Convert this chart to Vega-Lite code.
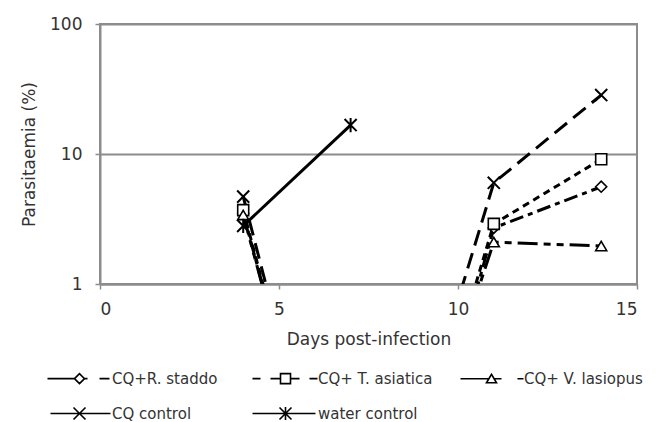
{
  "$schema": "https://vega.github.io/schema/vega-lite/v6.json",
  "autosize": {"type": "none"},
  "padding": {"left": 100, "top": 24, "right": 19, "bottom": 138},
  "width": 537,
  "height": 260,
  "background": "white",
  "config": {
    "font": "DejaVu Sans",
    "view": {"stroke": "#8c8c8c", "strokeWidth": 2},
    "axis": {"labelFont": "DejaVu Sans", "titleFont": "DejaVu Sans", "labelColor": "#333333", "titleColor": "#333333", "titleFontWeight": "normal", "labelFontSize": 17, "titleFontSize": 17, "domainColor": "#8c8c8c", "domainWidth": 2, "tickColor": "#8c8c8c", "tickWidth": 1.5, "tickSize": 5},
    "legend": {"labelFont": "DejaVu Sans", "labelFontSize": 15, "labelColor": "#333333"},
    "line": {"color": "black", "strokeWidth": 3, "strokeCap": "butt"},
    "point": {"filled": false, "fill": "white", "fillOpacity": 1, "stroke": "black", "strokeWidth": 1.6, "size": 121}
  },
  "data": {"values": [
    {"series": "CQ+R. staddo", "day": 4, "value": 3.5},
    {"series": "CQ+R. staddo", "day": 7, "value": 0.003},
    {"series": "CQ+R. staddo", "day": 10, "value": 0.28},
    {"series": "CQ+R. staddo", "day": 11, "value": 2.7},
    {"series": "CQ+R. staddo", "day": 14, "value": 5.6},
    {"series": "CQ+ T. asiatica", "day": 4, "value": 3.7},
    {"series": "CQ+ T. asiatica", "day": 7, "value": 0.003},
    {"series": "CQ+ T. asiatica", "day": 10, "value": 0.35},
    {"series": "CQ+ T. asiatica", "day": 11, "value": 2.9},
    {"series": "CQ+ T. asiatica", "day": 14, "value": 9.1},
    {"series": "CQ+ V. lasiopus", "day": 4, "value": 3.4},
    {"series": "CQ+ V. lasiopus", "day": 7, "value": 0.003},
    {"series": "CQ+ V. lasiopus", "day": 10, "value": 0.31},
    {"series": "CQ+ V. lasiopus", "day": 11, "value": 2.1},
    {"series": "CQ+ V. lasiopus", "day": 14, "value": 1.96},
    {"series": "CQ control", "day": 4, "value": 4.7},
    {"series": "CQ control", "day": 7, "value": 0.003},
    {"series": "CQ control", "day": 10, "value": 0.75},
    {"series": "CQ control", "day": 11, "value": 6.0},
    {"series": "CQ control", "day": 14, "value": 28.4},
    {"series": "water control", "day": 4, "value": 2.8},
    {"series": "water control", "day": 7, "value": 16.7}
  ]},
  "encoding": {
    "x": {"field": "day", "type": "quantitative", "scale": {"domain": [0, 15], "nice": false}, "axis": {"values": [0, 5, 10, 15], "title": "Days post-infection", "grid": false, "labelPadding": 12, "titlePadding": 14}},
    "y": {"field": "value", "type": "quantitative", "scale": {"type": "log", "domain": [1, 100], "nice": false}, "axis": {"values": [1, 10, 100], "format": "~g", "title": "Parasitaemia (%)", "grid": true, "gridColor": "#8c8c8c", "gridWidth": 2, "labelPadding": 13, "titlePadding": 11}}
  },
  "layer": [
    {"transform": [{"filter": {"field": "series", "equal": "CQ+R. staddo"}}], "mark": {"type": "line", "clip": true, "strokeDash": [14, 5, 5, 5]}},
    {"transform": [{"filter": {"field": "series", "equal": "CQ+ T. asiatica"}}], "mark": {"type": "line", "clip": true, "strokeDash": [7, 5]}},
    {"transform": [{"filter": {"field": "series", "equal": "CQ+ V. lasiopus"}}], "mark": {"type": "line", "clip": true, "strokeDash": [20, 6, 7, 6, 7, 6]}},
    {"transform": [{"filter": {"field": "series", "equal": "CQ control"}}], "mark": {"type": "line", "clip": true, "strokeDash": [16, 8]}},
    {"transform": [{"filter": {"field": "series", "equal": "water control"}}], "mark": {"type": "line", "clip": true}},
    {"transform": [{"filter": {"field": "series", "equal": "CQ+R. staddo"}}, {"filter": "datum.value >= 1"}], "mark": {"type": "point", "clip": true, "shape": "M-1,0L0,-1L1,0L0,1Z"}},
    {"transform": [{"filter": {"field": "series", "equal": "CQ+ T. asiatica"}}, {"filter": "datum.value >= 1"}], "mark": {"type": "point", "clip": true, "shape": "M-1,-1L1,-1L1,1L-1,1Z"}},
    {"transform": [{"filter": {"field": "series", "equal": "CQ+ V. lasiopus"}}, {"filter": "datum.value >= 1"}], "mark": {"type": "point", "clip": true, "shape": "M-1,0.85L0,-0.85L1,0.85Z"}},
    {"transform": [{"filter": {"field": "series", "equal": "CQ control"}}, {"filter": "datum.value >= 1"}], "mark": {"type": "point", "clip": true, "shape": "M-1.1,-1.1L1.1,1.1M-1.1,1.1L1.1,-1.1", "strokeWidth": 2}},
    {"transform": [{"filter": {"field": "series", "equal": "water control"}}, {"filter": "datum.value >= 1"}], "mark": {"type": "point", "clip": true, "shape": "M-1.1,-1.1L1.1,1.1M-1.1,1.1L1.1,-1.1M0,-1.3L0,1.3", "strokeWidth": 2}},
    {"transform": [{"filter": "datum.value < 1"}],
     "mark": {"type": "point", "clip": true, "size": 100, "strokeWidth": 2.2},
     "encoding": {
       "color": {
         "field": "series", "type": "nominal",
         "scale": {"domain": ["CQ+R. staddo", "CQ+ T. asiatica", "CQ+ V. lasiopus", "CQ control", "water control"], "range": ["black", "black", "black", "black", "black"]},
         "legend": {
           "title": null, "orient": "none", "direction": "horizontal", "legendX": -28, "legendY": 346, "columns": 3, "padding": 0,
           "gridAlign": "all", "columnPadding": 18, "rowPadding": 15, "symbolSize": 100, "labelOffset": 25,
           "symbolStrokeWidth": 2.2
         }
       },
       "shape": {
         "field": "series", "type": "nominal",
         "scale": {"domain": ["CQ+R. staddo", "CQ+ T. asiatica", "CQ+ V. lasiopus", "CQ control", "water control"],
                   "range": ["M-6.4,0L-1,0M-1,0L0,-1L1,0L0,1ZM1,0L1.6,0M4,0L6,0", "M-6.6,0L-5,0M-3,0L-1,0M-1,-1L1,-1L1,1L-1,1ZM1,0L2.8,0M4.8,0L6.4,0", "M-6.2,0L-0.55,0M-1,0.8L0,-0.9L1,0.8ZM0.55,0L2,0M5.2,0L6.4,0", "M-5.8,0L6.2,0M-1.2,-1.2L1.2,1.2M-1.2,1.2L1.2,-1.2", "M-6.6,0L6,0M-1.2,-1.2L1.2,1.2M-1.2,1.2L1.2,-1.2M0,-1.3L0,1.3"]},
         "legend": null
       }
     }
    }
  ]
}
